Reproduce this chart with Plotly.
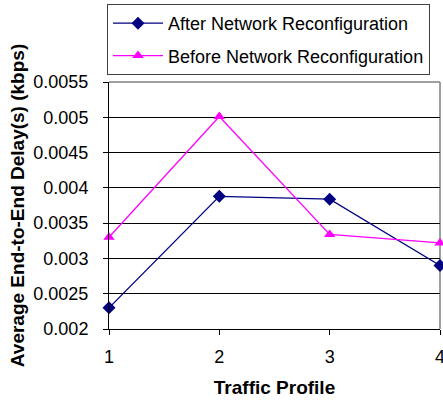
import plotly.graph_objects as go

profiles = [1, 2, 3, 4]
after_vals = [0.0023, 0.00388, 0.00384, 0.0029]
before_vals = [0.0033, 0.00501, 0.00334, 0.00322]
y_ticks = [0.002, 0.0025, 0.003, 0.0035, 0.004, 0.0045, 0.005, 0.0055]
y_labels = ["0.002", "0.0025", "0.003", "0.0035", "0.004", "0.0045", "0.005", "0.0055"]
x_labels = ["1", "2", "3", "4"]

FONT = "Arial, Liberation Sans, sans-serif"

fig = go.Figure()
fig.add_trace(go.Scatter(
    x=profiles, y=after_vals, mode="lines+markers",
    name="After Network Reconfiguration", legendgroup="a",
    line=dict(color="#000080", width=1.3),
    marker=dict(symbol="diamond", size=10, color="#000080"),
    cliponaxis=False,
))
fig.add_trace(go.Scatter(
    x=profiles, y=before_vals, mode="lines+markers",
    name="Before Network Reconfiguration", legendgroup="b",
    line=dict(color="#FF00FF", width=1.3),
    marker=dict(symbol="triangle-up", size=10, color="#FF00FF"),
    cliponaxis=False,
))

fig.update_layout(
    width=443, height=400,
    margin=dict(l=109, r=3, t=82, b=71),
    paper_bgcolor="white", plot_bgcolor="white",
    font=dict(family=FONT, size=18, color="black"),
    showlegend=True,
    legend=dict(
        x=-0.006, y=1.316, xanchor="left", yanchor="top",
        bordercolor="#404040", borderwidth=1, bgcolor="white",
        font=dict(size=18), traceorder="grouped", tracegroupgap=6,
        itemwidth=50,
    ),
    xaxis=dict(
        range=[1, 4], tickvals=profiles, ticktext=x_labels,
        showgrid=False, zeroline=False,
        showline=True, linecolor="black", linewidth=1,
        ticks="outside", ticklen=5, tickcolor="black", ticklabelstandoff=6,
        ticklabeloverflow="allow",
        title=dict(text="<b>Traffic Profile</b>", standoff=15, font=dict(size=19)),
        automargin=False,
    ),
    yaxis=dict(
        range=[0.002, 0.0055], tickvals=y_ticks, ticktext=y_labels,
        showgrid=True, gridcolor="black", gridwidth=1, zeroline=False,
        showline=True, linecolor="black", linewidth=1,
        ticks="outside", ticklen=5, tickcolor="black", ticklabelstandoff=11,
        title=dict(text="<b>Average End-to-End Delay(s) (kbps)</b>", standoff=3, font=dict(size=19)),
        automargin=False,
    ),
    shapes=[
        dict(type="line", xref="paper", yref="paper", x0=0, x1=1, y0=1, y1=1,
             line=dict(color="#808080", width=1.5), layer="between"),
        dict(type="line", xref="paper", yref="paper", x0=1, x1=1, y0=0, y1=1,
             line=dict(color="#808080", width=1.5), layer="between"),
    ],
)

fig.write_html("out.html", config={"displayModeBar": False},
               post_script="document.body.style.margin='0';")
